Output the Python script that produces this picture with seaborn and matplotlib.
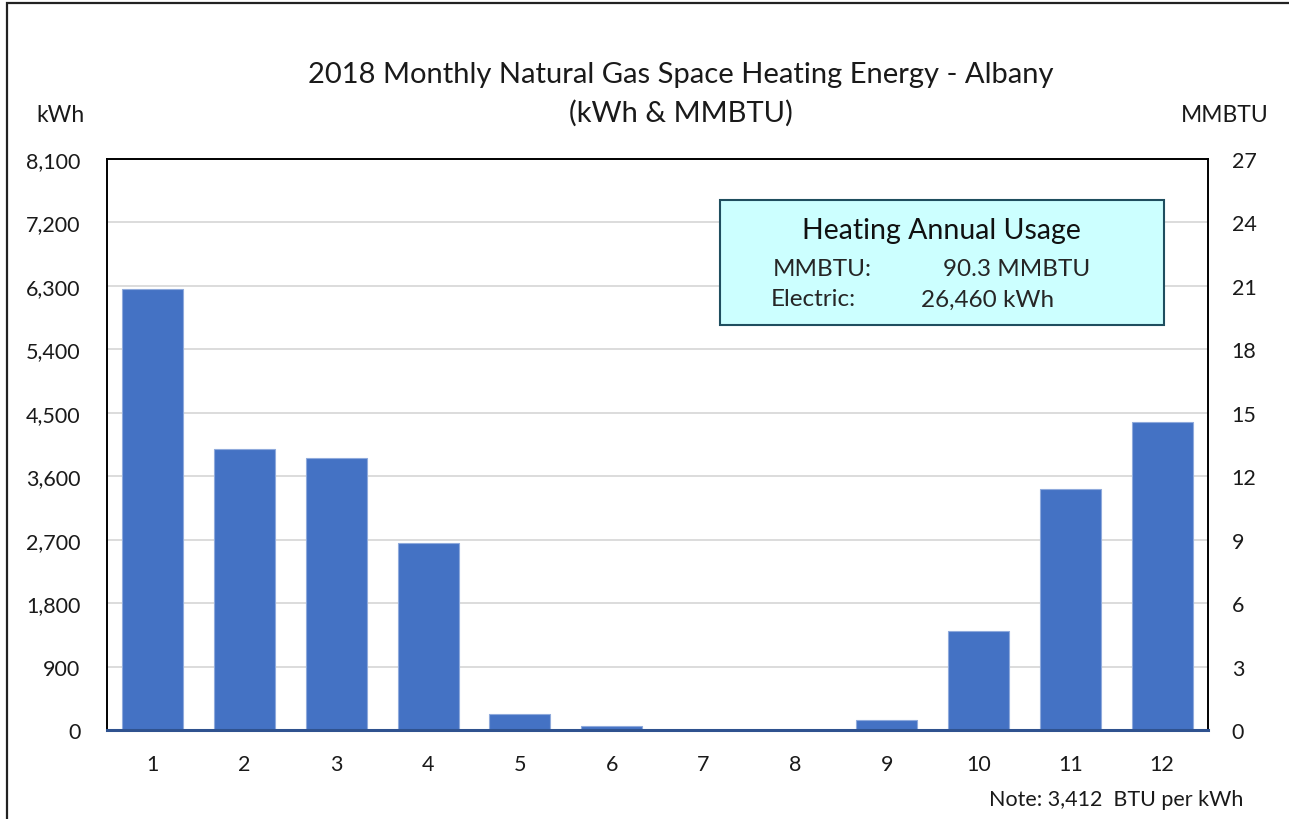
import matplotlib
matplotlib.use("Agg")
import matplotlib.pyplot as plt
from matplotlib.patches import Rectangle
import numpy as np
import pandas as pd
import seaborn as sns

# monthly heating energy (kWh)
months = ["1", "2", "3", "4", "5", "6", "7", "8", "9", "10", "11", "12"]
kwh = [6257, 3993, 3861, 2649, 227, 62, 0, 0, 148, 1411, 3421, 4364]
kwh_ticks = [0, 900, 1800, 2700, 3600, 4500, 5400, 6300, 7200, 8100]
mmbtu_ticks = [0, 3, 6, 9, 12, 15, 18, 21, 24, 27]

title_lines = ["2018 Monthly Natural Gas Space Heating Energy - Albany", "(kWh & MMBTU)"]
box_title = "Heating Annual Usage"
box_rows = [("MMBTU:", "90.3 MMBTU"), ("Electric:", "26,460 kWh")]
note = "Note: 3,412  BTU per kWh"

df = pd.DataFrame({"month": months, "kwh": kwh})

sns.set_theme(style="white")
plt.rcParams["font.family"] = ["Lato", "DejaVu Sans"]

W, H = 1289, 820
fig = plt.figure(figsize=(W / 100, H / 100), dpi=100)


def fx(x):
    return x / W


def fy(y):
    return 1 - y / H


ax = fig.add_axes([fx(107), fy(731), fx(1208) - fx(107), fy(160) - fy(731)])
sns.barplot(data=df, x="month", y="kwh", color="#4472C4", saturation=1,
            width=0.665, edgecolor="#8FAADC", linewidth=0.8, ax=ax, zorder=3)

ax.set_xlim(-0.5, 11.5)
ax.set_ylim(0, 8100)
ax.set_yticks(kwh_ticks)
ax.set_yticklabels([f"{v:,}" for v in kwh_ticks])
ax.set_xlabel("")
ax.set_ylabel("")
ax.grid(axis="y", color="#D9D9D9", linewidth=1.3, zorder=0)
ax.tick_params(axis="y", length=0, pad=19, labelsize=15.5, labelcolor="#1a1a1a")
ax.tick_params(axis="x", length=0, pad=17, labelsize=15.5, labelcolor="#1a1a1a")
for side in ["left", "top", "right"]:
    ax.spines[side].set_color("black")
    ax.spines[side].set_linewidth(1.4)
ax.spines["bottom"].set_color("#2F528F")
ax.spines["bottom"].set_linewidth(2.2)
ax.spines["bottom"].set_zorder(5)

ax2 = ax.twinx()
ax2.set_ylim(0, 27)
ax2.set_yticks(mmbtu_ticks)
ax2.tick_params(axis="y", length=0, pad=17, labelsize=15.5, labelcolor="#1a1a1a")
ax2.grid(False)
for side in ["left", "top", "right", "bottom"]:
    ax2.spines[side].set_visible(False)

# titles and axis unit labels
fig.text(fx(681), fy(75), title_lines[0], ha="center", va="center", fontsize=21, color="#1a1a1a")
fig.text(fx(681), fy(113), title_lines[1], ha="center", va="center", fontsize=21, color="#1a1a1a")
fig.text(fx(61), fy(116), "kWh", ha="center", va="center", fontsize=16.5, color="#1a1a1a")
fig.text(fx(1225), fy(116), "MMBTU", ha="center", va="center", fontsize=16.5, color="#1a1a1a")

# annual usage box
fig.add_artist(Rectangle((fx(720), fy(326)), fx(1164) - fx(720), fy(201) - fy(326),
                         transform=fig.transFigure, facecolor="#CCFFFF",
                         edgecolor="#1F4E5F", linewidth=1.5, zorder=10))
fig.text(fx(941), fy(231), box_title, ha="center", va="center", fontsize=20.5,
         color="#111111", zorder=11)
fig.text(fx(773), fy(270), box_rows[0][0], ha="left", va="center", fontsize=17.5, zorder=11)
fig.text(fx(1090), fy(270), box_rows[0][1], ha="right", va="center", fontsize=17.5, zorder=11)
fig.text(fx(771), fy(300), box_rows[1][0], ha="left", va="center", fontsize=17.5, zorder=11)
fig.text(fx(1054), fy(300), box_rows[1][1], ha="right", va="center", fontsize=17.5, zorder=11)

fig.text(fx(1243), fy(800), note, ha="right", va="center", fontsize=15.5, color="#1a1a1a")

# chart area border (runs off the right and bottom edges)
fig.add_artist(Rectangle((fx(7), fy(840)), fx(1320) - fx(7), fy(4) - fy(840),
                         transform=fig.transFigure, fill=False,
                         edgecolor="#222222", linewidth=1.6))

fig.savefig("out.png", dpi=100)
